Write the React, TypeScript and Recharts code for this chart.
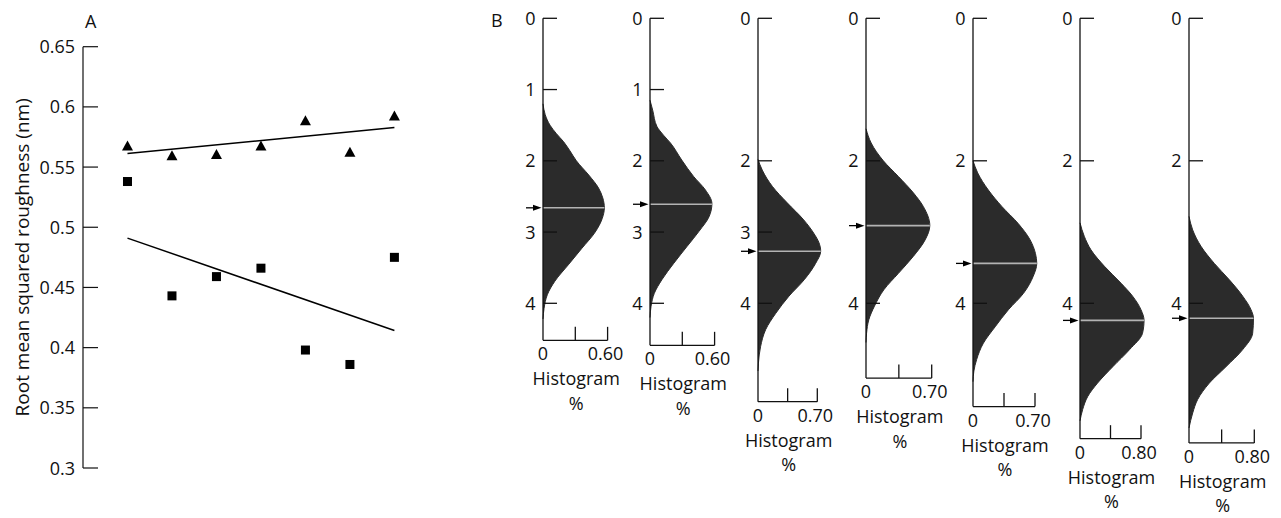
import React from 'react';
import {
  ComposedChart,
  Scatter,
  XAxis,
  YAxis,
  ReferenceLine,
  ReferenceDot,
  Area,
} from 'recharts';

const FONT = '"Open Sans", sans-serif';
const INK = '#111111';
const FILL = '#2b2b2b';

// ---------- Panel A data ----------
const imageIndex = [1, 2, 3, 4, 5, 6, 7];
const triangleValues = [0.567, 0.559, 0.56, 0.567, 0.588, 0.562, 0.592];
const squareValues = [0.538, 0.443, 0.459, 0.466, 0.398, 0.386, 0.475];
const triangleFitEnds = [0.5613, 0.5828];
const squareFitEnds = [0.491, 0.4142];
const rmsTicks = [0.3, 0.35, 0.4, 0.45, 0.5, 0.55, 0.6, 0.65];
const rmsDomain = [0.3, 0.65];
const imageDomain = [0, 7.8];

// ---------- Panel B data ----------
const h1Depth = [1.2, 1.35, 1.5, 1.62, 1.73, 1.86, 2.0, 2.2, 2.38, 2.52, 2.66, 2.81, 3.0, 3.23, 3.46, 3.69, 3.88, 4.07, 4.22];
const h1Pct = [0, 0.02, 0.065, 0.125, 0.19, 0.25, 0.31, 0.425, 0.515, 0.555, 0.57, 0.55, 0.485, 0.36, 0.235, 0.11, 0.04, 0.01, 0];
const h2Depth = [1.15, 1.29, 1.52, 1.64, 1.75, 1.99, 2.22, 2.41, 2.6, 2.78, 2.99, 3.2, 3.44, 3.67, 3.86, 4.04, 4.2];
const h2Pct = [0, 0.025, 0.065, 0.125, 0.19, 0.295, 0.405, 0.515, 0.575, 0.55, 0.455, 0.345, 0.22, 0.11, 0.04, 0.01, 0];
const h3Depth = [1.98, 2.13, 2.36, 2.59, 2.83, 3.02, 3.15, 3.27, 3.44, 3.67, 3.9, 4.14, 4.37, 4.61, 4.84, 4.95];
const h3Pct = [0, 0.05, 0.17, 0.345, 0.54, 0.66, 0.72, 0.74, 0.68, 0.545, 0.365, 0.21, 0.09, 0.03, 0.005, 0];
const h4Depth = [1.55, 1.75, 2.0, 2.22, 2.45, 2.64, 2.91, 3.11, 3.34, 3.58, 3.81, 4.04, 4.23, 4.42, 4.55];
const h4Pct = [0, 0.055, 0.185, 0.345, 0.505, 0.61, 0.68, 0.63, 0.505, 0.345, 0.19, 0.09, 0.03, 0.006, 0];
const h5Depth = [2.0, 2.17, 2.41, 2.64, 2.88, 3.11, 3.3, 3.44, 3.62, 3.86, 4.09, 4.33, 4.56, 4.79, 4.95, 5.1];
const h5Pct = [0, 0.053, 0.173, 0.325, 0.51, 0.645, 0.705, 0.72, 0.68, 0.57, 0.4, 0.25, 0.117, 0.041, 0.01, 0];
const h6Depth = [2.87, 3.06, 3.25, 3.48, 3.72, 3.9, 4.09, 4.24, 4.42, 4.65, 4.89, 5.12, 5.31, 5.49, 5.65];
const h6Pct = [0, 0.056, 0.144, 0.32, 0.54, 0.69, 0.8, 0.84, 0.82, 0.65, 0.43, 0.23, 0.1, 0.035, 0];
const h7Depth = [2.78, 2.97, 3.2, 3.44, 3.67, 3.9, 4.09, 4.21, 4.42, 4.65, 4.89, 5.12, 5.35, 5.54, 5.75];
const h7Pct = [0, 0.045, 0.147, 0.31, 0.494, 0.658, 0.76, 0.79, 0.78, 0.658, 0.453, 0.249, 0.106, 0.045, 0];

const histDepths = [h1Depth, h2Depth, h3Depth, h4Depth, h5Depth, h6Depth, h7Depth];
const histPcts = [h1Pct, h2Pct, h3Pct, h4Pct, h5Pct, h6Pct, h7Pct];
const meanDepths = [2.66, 2.61, 3.27, 2.91, 3.44, 4.24, 4.21];
const meanPcts = [0.57, 0.575, 0.74, 0.68, 0.72, 0.84, 0.79];
const histAxisMax = [0.6, 0.6, 0.7, 0.7, 0.7, 0.8, 0.8];
const histAxisLabels = ['0.60', '0.60', '0.70', '0.70', '0.70', '0.80', '0.80'];
const depthTicks = [
  [0, 1, 2, 3, 4],
  [0, 1, 2, 3, 4],
  [0, 2, 3, 4],
  [0, 2, 4],
  [0, 2, 4],
  [0, 2, 4],
  [0, 2, 4],
];
const histDepthMax = [4.52, 4.59, 5.38, 5.05, 5.45, 5.9, 5.96];

// ---------- Layout (not data) ----------
const HIST_AXIS_X = [542.7, 649.5, 758, 865.5, 972.5, 1080, 1188.7];
const HIST_END_PX = [64.6, 64.6, 59.3, 65.7, 62, 61, 65.3];
const PX_PER_DEPTH = 71.25;
const HIST_TOP = 18.3;
const YW = 40;

// ---------- Panel A ----------
function RmsTick(props: any) {
  const { x, y, payload } = props;
  return (
    <g>
      <line x1={x} y1={y} x2={x + 15} y2={y} stroke={INK} strokeWidth={1.2} />
      <text x={x - 8} y={y + 6.5} textAnchor="end" fontFamily={FONT} fontSize={18} fill={INK}>
        {String(payload.value)}
      </text>
    </g>
  );
}

function XTitle(props: any) {
  const vb = props.viewBox || { x: 83, y: 468, width: 347, height: 0 };
  return (
    <text x={vb.x + vb.width / 2 + 3} y={vb.y + 25} textAnchor="middle" fontFamily={FONT} fontSize={19} fill={INK}>
      Images (A) to (G) of figure 5
    </text>
  );
}

function YTitle(props: any) {
  const vb = props.viewBox || { x: 0, y: 47, width: 83, height: 421 };
  const cx = 22;
  const cy = vb.y + vb.height / 2;
  return (
    <text
      x={cx}
      y={cy}
      transform={`rotate(-90 ${cx} ${cy})`}
      textAnchor="middle"
      dominantBaseline="central"
      fontFamily={FONT}
      fontSize={19}
      fill={INK}
    >
      Root mean squared roughness (nm)
    </text>
  );
}

const TriangleShape = (p: any) => {
  const { cx, cy } = p;
  return <polygon points={`${cx},${cy - 6} ${cx + 5.5},${cy + 4} ${cx - 5.5},${cy + 4}`} fill="#000" />;
};
const SquareShape = (p: any) => {
  const { cx, cy } = p;
  return <rect x={cx - 4.5} y={cy - 4.5} width={9} height={9} fill="#000" />;
};

function PanelA() {
  const triData = imageIndex.map((x, i) => ({ x, y: triangleValues[i] }));
  const sqData = imageIndex.map((x, i) => ({ x, y: squareValues[i] }));
  const first = imageIndex[0];
  const last = imageIndex[imageIndex.length - 1];
  return (
    <ComposedChart width={440} height={518} margin={{ top: 46.7, right: 10, bottom: 50, left: 0 }}>
      <XAxis
        type="number"
        dataKey="x"
        domain={imageDomain}
        height={0}
        tick={false}
        tickLine={false}
        axisLine={{ stroke: INK, strokeWidth: 1.2 }}
        label={<XTitle />}
      />
      <YAxis
        type="number"
        dataKey="y"
        domain={rmsDomain}
        ticks={rmsTicks}
        interval={0}
        width={83}
        tickLine={false}
        tickSize={0}
        tickMargin={0}
        axisLine={{ stroke: INK, strokeWidth: 1.2 }}
        tick={(p: any) => <RmsTick {...p} />}
        label={<YTitle />}
      />
      <ReferenceLine
        segment={[{ x: first, y: triangleFitEnds[0] }, { x: last, y: triangleFitEnds[1] }]}
        stroke="#000"
        strokeWidth={1.5}
        ifOverflow="visible"
      />
      <ReferenceLine
        segment={[{ x: first, y: squareFitEnds[0] }, { x: last, y: squareFitEnds[1] }]}
        stroke="#000"
        strokeWidth={1.5}
        ifOverflow="visible"
      />
      <Scatter data={triData} dataKey="y" shape={TriangleShape} isAnimationActive={false} />
      <Scatter data={sqData} dataKey="y" shape={SquareShape} isAnimationActive={false} />
    </ComposedChart>
  );
}

// ---------- Panel B ----------
function DepthTick(props: any) {
  const { x, y, payload } = props;
  return (
    <g>
      <line x1={x} y1={y} x2={x + 14} y2={y} stroke={INK} strokeWidth={1.3} />
      <text x={x - 12.7} y={y + 6.5} textAnchor="middle" fontFamily={FONT} fontSize={18} fill={INK}>
        {String(payload.value)}
      </text>
    </g>
  );
}

function PctTick(props: any) {
  const { x, y, index, endLabel } = props;
  return (
    <g>
      {index > 0 && <line x1={x} y1={y} x2={x} y2={y - 13.5} stroke={INK} strokeWidth={1.3} />}
      {index === 0 && (
        <text x={x} y={y + 20} textAnchor="middle" fontFamily={FONT} fontSize={18} fill={INK}>
          0
        </text>
      )}
      {index === 2 && (
        <text x={x - 2} y={y + 20} textAnchor="middle" fontFamily={FONT} fontSize={18} fill={INK}>
          {endLabel}
        </text>
      )}
      {index === 1 && (
        <g>
          <text x={x + 1} y={y + 45} textAnchor="middle" fontFamily={FONT} fontSize={18} fill={INK}>
            Histogram
          </text>
          <text x={x + 1} y={y + 69.5} textAnchor="middle" fontFamily={FONT} fontSize={18} fill={INK}>
            %
          </text>
        </g>
      )}
    </g>
  );
}

function Arrow(props: any) {
  const { cx, cy } = props;
  return (
    <g>
      <line x1={cx - 17} y1={cy} x2={cx - 8} y2={cy} stroke="#000" strokeWidth={1.3} />
      <polygon points={`${cx - 1.5},${cy} ${cx - 10},${cy - 3} ${cx - 10},${cy + 3}`} fill="#000" />
    </g>
  );
}

function Histogram({ i }: { i: number }) {
  const depth = histDepths[i];
  const pct = histPcts[i];
  const data = depth.map((d, k) => ({ d, p: pct[k] }));
  const axisMax = histAxisMax[i];
  const dMax = histDepthMax[i];
  const domMax = axisMax * 1.25;
  const plotW = HIST_END_PX[i] * 1.25;
  const plotH = dMax * PX_PER_DEPTH;
  const width = YW + plotW + 12;
  const height = HIST_TOP + plotH + 80;
  const mean = meanDepths[i];
  return (
    <ComposedChart
      layout="vertical"
      width={width}
      height={height}
      data={data}
      margin={{ top: HIST_TOP, right: 12, bottom: 0, left: 0 }}
    >
      <XAxis
        type="number"
        dataKey="p"
        domain={[0, domMax]}
        ticks={[0, axisMax / 2, axisMax]}
        interval={0}
        height={80}
        axisLine={false}
        tickLine={false}
        tickSize={0}
        tickMargin={0}
        tick={(p: any) => <PctTick {...p} endLabel={histAxisLabels[i]} />}
      />
      <YAxis
        type="number"
        dataKey="d"
        domain={[0, dMax]}
        ticks={depthTicks[i]}
        interval={0}
        width={YW}
        axisLine={{ stroke: INK, strokeWidth: 1.3 }}
        tickLine={false}
        tickSize={0}
        tickMargin={0}
        tick={(p: any) => <DepthTick {...p} />}
      />
      <Area
        type="monotone"
        dataKey="p"
        fill={FILL}
        fillOpacity={1}
        stroke={FILL}
        strokeWidth={1}
        dot={false}
        activeDot={false}
        isAnimationActive={false}
      />
      <ReferenceLine
        segment={[{ x: 0, y: mean }, { x: meanPcts[i], y: mean }]}
        stroke="#b3b3b3"
        strokeWidth={1.6}
        ifOverflow="visible"
      />
      <ReferenceLine
        segment={[{ x: 0, y: dMax }, { x: axisMax, y: dMax }]}
        stroke={INK}
        strokeWidth={1.3}
        ifOverflow="visible"
      />
      <ReferenceDot x={0} y={mean} r={3} ifOverflow="visible" shape={(p: any) => <Arrow cx={p.cx} cy={p.cy} />} />
    </ComposedChart>
  );
}

export default function App() {
  return (
    <div
      style={{
        position: 'absolute',
        left: 0,
        top: 0,
        width: 1281,
        height: 518,
        overflow: 'hidden',
        background: '#fff',
      }}
    >
      <svg width={1281} height={518} style={{ position: 'absolute', left: 0, top: 0 }}>
        <text x={85} y={28} fontFamily={FONT} fontSize={18} fill={INK}>A</text>
        <text x={491} y={27} fontFamily={FONT} fontSize={18} fill={INK}>B</text>
      </svg>
      <div style={{ position: 'absolute', left: 0, top: 0 }}>
        <PanelA />
      </div>
      {HIST_AXIS_X.map((ax, i) => (
        <div key={i} style={{ position: 'absolute', left: ax - YW, top: 0 }}>
          <Histogram i={i} />
        </div>
      ))}
    </div>
  );
}
